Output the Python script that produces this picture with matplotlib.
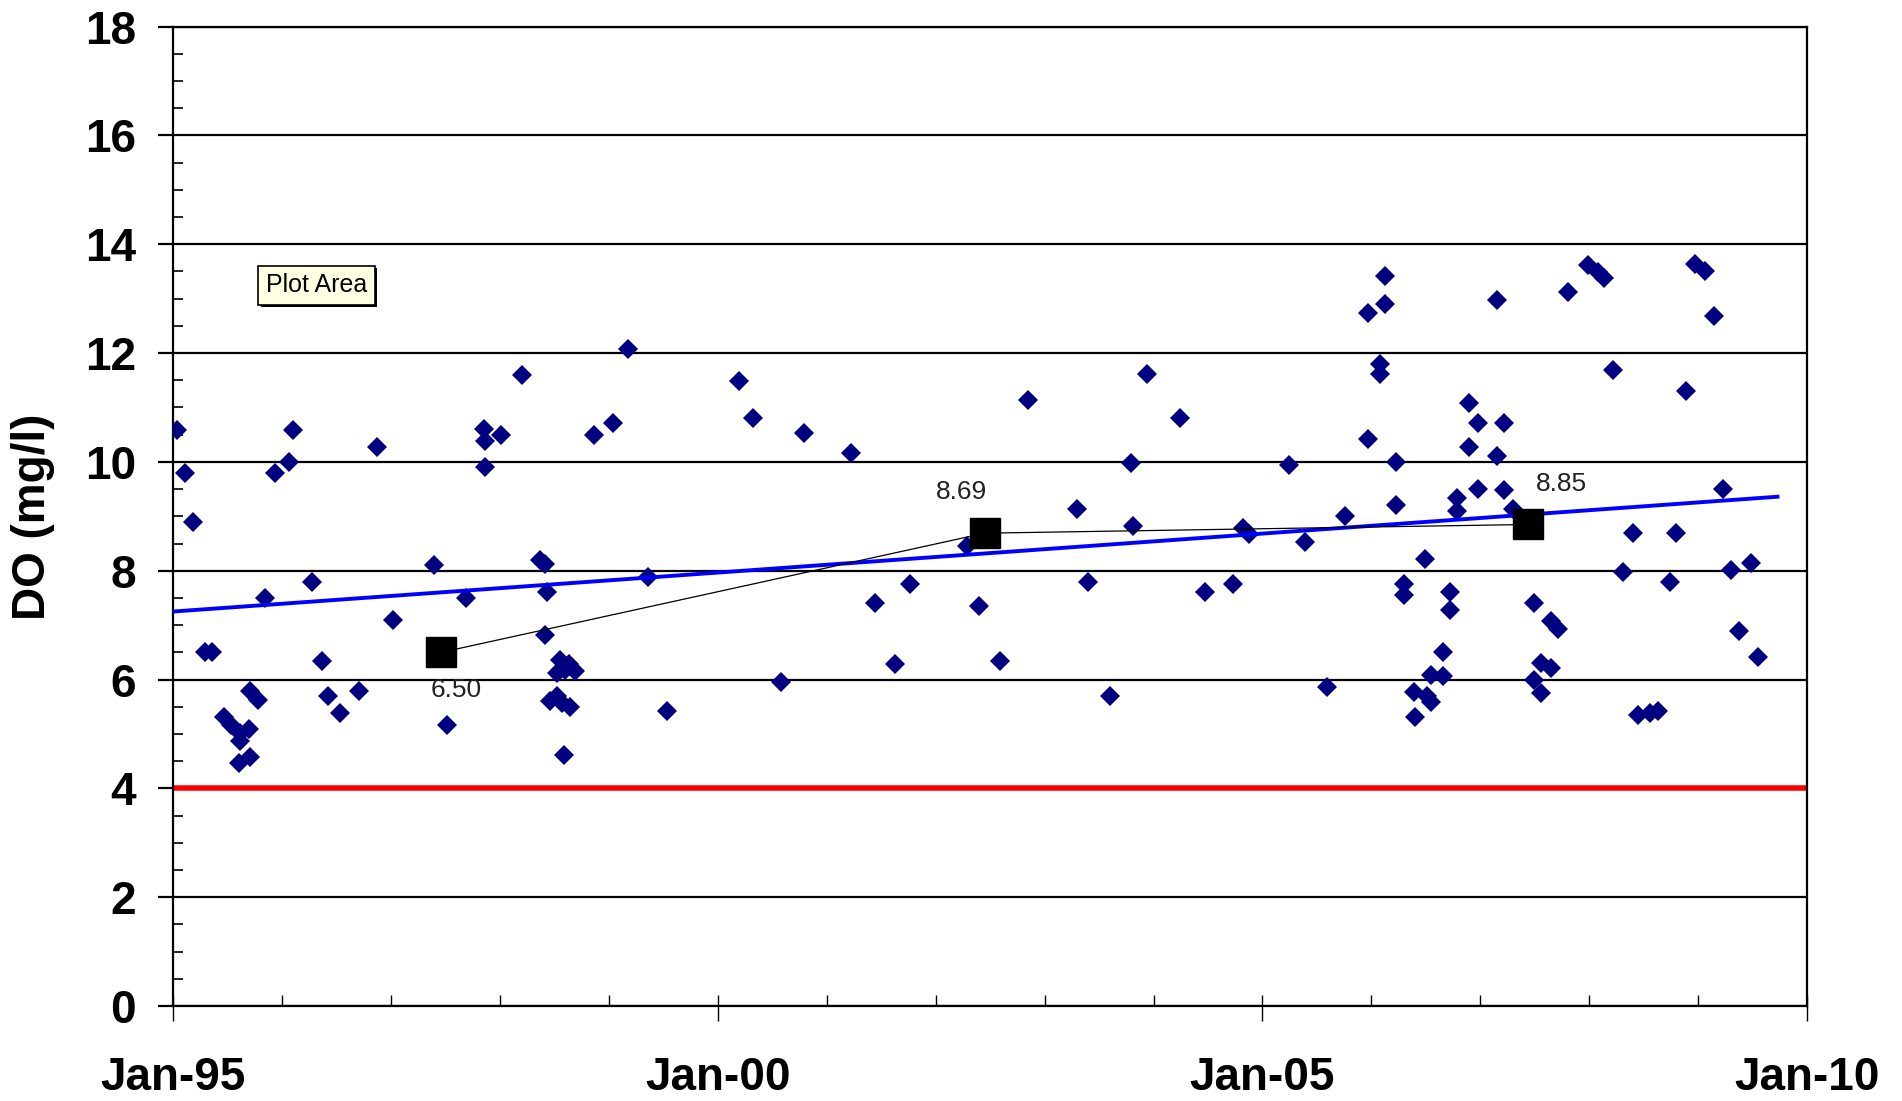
import numpy as np
import matplotlib
matplotlib.use('Agg')
import matplotlib.pyplot as plt
import matplotlib.patheffects as pe
from matplotlib.ticker import MultipleLocator, FixedLocator

plt.rcParams['font.family'] = ['Liberation Sans', 'DejaVu Sans']

# sample dates (decimal years) and dissolved oxygen readings (mg/l)
sample_year = [
    1995.03, 1995.11, 1995.18, 1995.29, 1995.35, 1995.46, 1995.53, 1995.61,
    1995.69, 1995.61, 1995.60, 1995.70, 1995.70, 1995.78, 1995.84, 1995.93,
    1996.06, 1996.10, 1996.27, 1996.36, 1996.42, 1996.53, 1996.70, 1996.87,
    1997.02, 1997.39, 1997.51, 1997.69, 1997.86, 1997.85, 1997.86, 1998.01,
    1998.20, 1998.37, 1998.41, 1998.43, 1998.41, 1998.55, 1998.63, 1998.69,
    1998.52, 1998.60, 1998.46, 1998.52, 1998.57, 1998.64, 1998.59, 1998.86,
    1999.04, 1999.17, 1999.36, 1999.53, 2000.19, 2000.32, 2000.58, 2000.79,
    2001.22, 2001.44, 2001.63, 2001.76, 2002.29, 2002.40, 2002.59, 2002.85,
    2003.30, 2003.40, 2003.60, 2003.79, 2003.81, 2003.94, 2004.24, 2004.47,
    2004.73, 2004.82, 2004.88, 2005.24, 2005.39, 2005.59, 2005.76, 2005.97,
    2005.97, 2006.08, 2006.08, 2006.13, 2006.13, 2006.23, 2006.23, 2006.30,
    2006.30, 2006.39, 2006.40, 2006.49, 2006.51, 2006.55, 2006.55, 2006.66,
    2006.66, 2006.72, 2006.72, 2006.79, 2006.79, 2006.90, 2006.90, 2006.98,
    2006.98, 2007.15, 2007.15, 2007.22, 2007.22, 2007.30, 2007.49, 2007.49,
    2007.56, 2007.56, 2007.65, 2007.65, 2007.71, 2007.81, 2007.99, 2008.08,
    2008.14, 2008.22, 2008.31, 2008.40, 2008.45, 2008.56, 2008.63, 2008.74,
    2008.80, 2008.89, 2008.97, 2009.06, 2009.15, 2009.23, 2009.30, 2009.38,
    2009.49, 2009.55,
]
do_value = [
    10.58, 9.80, 8.90, 6.51, 6.51, 5.31, 5.17, 5.02,
    5.10, 4.87, 4.47, 4.57, 5.79, 5.62, 7.50, 9.80,
    9.99, 10.58, 7.80, 6.34, 5.69, 5.39, 5.79, 10.28,
    7.10, 8.10, 5.17, 7.49, 9.90, 10.60, 10.39, 10.49,
    11.60, 8.20, 8.12, 7.61, 6.81, 6.35, 6.28, 6.15,
    6.12, 6.18, 5.60, 5.69, 5.57, 5.50, 4.62, 10.49,
    10.71, 12.07, 7.88, 5.43, 11.48, 10.80, 5.96, 10.54,
    10.16, 7.41, 6.29, 7.75, 8.45, 7.36, 6.34, 11.14,
    9.13, 7.79, 5.69, 9.98, 8.82, 11.61, 10.80, 7.61,
    7.75, 8.79, 8.67, 9.94, 8.52, 5.86, 9.01, 10.42,
    12.73, 11.80, 11.61, 13.42, 12.90, 9.99, 9.21, 7.75,
    7.56, 5.77, 5.31, 8.22, 5.69, 5.59, 6.09, 6.51,
    6.07, 7.60, 7.27, 9.33, 9.10, 11.09, 10.28, 10.71,
    9.51, 12.98, 10.11, 10.71, 9.49, 9.13, 7.41, 6.00,
    6.31, 5.76, 6.22, 7.07, 6.93, 13.12, 13.61, 13.49,
    13.38, 11.69, 7.98, 8.69, 5.34, 5.39, 5.42, 7.79,
    8.69, 11.31, 13.64, 13.50, 12.69, 9.51, 8.01, 6.89,
    8.15, 6.42,
]

# five-year period means
period_mid = [1997.46, 2002.45, 2007.44]
period_mean = [6.50, 8.69, 8.85]

# linear trend end points
trend_year = [1995.0, 2009.73]
trend_value = [7.25, 9.36]

do_standard = 4.0

xtick_pos = [1995, 2000, 2005, 2010]
xtick_labels = ['Jan-95', 'Jan-00', 'Jan-05', 'Jan-10']

fig = plt.figure(figsize=(19.02, 11.01), dpi=100)
ax = fig.add_axes([0.0912, 0.0863, 0.8588, 0.8895])

ax.axhline(do_standard, color='#FF0000', lw=4.0, zorder=2)
ax.plot(sample_year, do_value, 'D', color='#000080', markersize=10.6,
        markeredgewidth=0, zorder=3)
ax.plot(trend_year, trend_value, '-', color='#0000FF', lw=2.8, zorder=4)
ax.plot(period_mid, period_mean, '-', color='black', lw=0.9, zorder=5)
ax.plot(period_mid, period_mean, 's', color='black', markersize=22, zorder=6)

offsets = [(11, -27), (-17, 30), (24, 29)]
for xm, ym, off in zip(period_mid, period_mean, offsets):
    ax.annotate(f'{ym:.2f}', (xm, ym), xytext=off, textcoords='offset points',
                ha='center', va='center', fontsize=19, color='#222222', zorder=7)

tip = ax.text(0.0876, 0.7361, 'Plot Area', transform=ax.transAxes, ha='center',
              va='center', fontsize=18,
              bbox=dict(boxstyle='square,pad=0.3', fc='#FFFFE1', ec='black', lw=1.2))
tip.get_bbox_patch().set_path_effects([
    pe.SimplePatchShadow(offset=(1.5, -1.5), shadow_rgbFace='black', alpha=1.0),
    pe.Normal()])

ax.set_xlim(1995, 2010)
ax.set_ylim(0, 18)
ax.xaxis.set_major_locator(FixedLocator(xtick_pos))
ax.set_xticklabels(xtick_labels)
ax.xaxis.set_minor_locator(MultipleLocator(1))
ax.xaxis.remove_overlapping_locs = False
ax.yaxis.set_major_locator(MultipleLocator(2))
ax.yaxis.set_minor_locator(MultipleLocator(0.5))

ax.yaxis.grid(True, which='major', color='black', lw=1.6)
ax.set_axisbelow(True)

ax.tick_params(axis='y', which='major', direction='out', length=10.8, width=1.6,
               labelsize=33, pad=16)
ax.tick_params(axis='y', which='minor', direction='in', length=7.2, width=1.2)
ax.tick_params(axis='x', which='major', direction='out', length=10.8, width=1.0,
               labelsize=33, pad=25)
ax.tick_params(axis='x', which='minor', direction='in', length=7.7, width=1.0)
for lab in ax.get_xticklabels() + ax.get_yticklabels():
    lab.set_fontweight('bold')

for side in ['left', 'right', 'top', 'bottom']:
    ax.spines[side].set_color('black')
    ax.spines[side].set_linewidth(1.6)

ax.set_ylabel('DO (mg/l)', fontsize=33, fontweight='bold')
ax.yaxis.set_label_coords(-0.0725, 0.5)

fig.savefig('out.png', dpi=100)
